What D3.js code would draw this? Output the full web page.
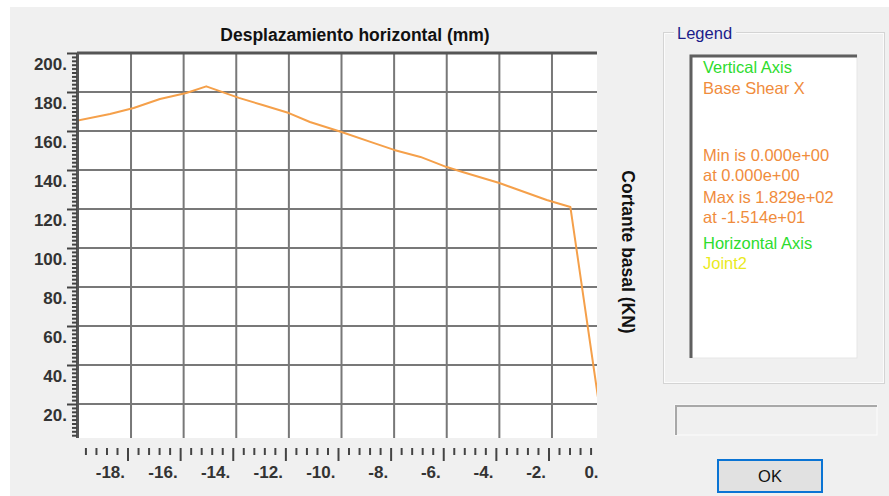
<!DOCTYPE html>
<html>
<head>
<meta charset="utf-8">
<script src="https://cdn.jsdelivr.net/npm/d3@7"></script>
<style>
	body { margin: 0; background: #ffffff; }
	svg { display: block; font-family: "Liberation Sans", Arial, sans-serif; }
</style>
</head>
<body>
<script>
// desplazamiento horizontal (mm) vs cortante basal (KN)
const dispX = [-20.0, -18.8, -17.9, -16.9, -15.9, -15.14, -13.9, -13.0, -12.0, -11.2, -10.0, -8.9, -8.0, -7.0, -6.0, -5.4, -4.0, -2.2, -1.3, 0.0];
const shearY = [165.5, 168.7, 171.8, 176.4, 179.5, 182.9, 177.0, 173.3, 169.2, 164.6, 159.5, 154.4, 150.3, 146.7, 141.5, 139.0, 133.3, 124.6, 121.0, 0.0];

const xMajor = [-18, -16, -14, -12, -10, -8, -6, -4, -2, 0];
const xGrid = [-18, -16, -14, -12, -10, -8, -6, -4, -2];
const yMajor = [20, 40, 60, 80, 100, 120, 140, 160, 180, 200];
const yGrid = [20, 40, 60, 80, 100, 120, 140, 160, 180];

const legendText = ["Vertical Axis", "Base Shear X", "Min is 0.000e+00", "at 0.000e+00", "Max is 1.829e+02", "at -1.514e+01", "Horizontal Axis", "Joint2"];
const legendColor = ["#2edc2e", "#f08c3c", "#f08c3c", "#f08c3c", "#f08c3c", "#f08c3c", "#2edc2e", "#eaea1e"];

const data = dispX.map((d, i) => ({x: d, y: shearY[i]}));

const width = 889, height = 496;
const plot = {left: 79, right: 597, top: 53, bottom: 438};

let svg = d3.select("body").append("svg")
	.attr("width", width)
	.attr("height", height);

// dialog background
svg.append("rect")
	.attr("x", 10).attr("y", 7)
	.attr("width", width - 10).attr("height", height - 7)
	.attr("fill", "#f0f0f0");

//scales
const x = d3.scaleLinear().domain([-20, 0]).range([78.4, 604.6]);
const y = d3.scaleLinear().domain([0, 200]).range([443, 53]);
// axis ticks sit a few px left of the grid in the original
const xt = x.copy().range([78.4 - 3.5, 604.6 - 3.5]);

svg.append("defs").append("clipPath").attr("id", "clip")
	.append("rect")
	.attr("x", plot.left).attr("y", plot.top)
	.attr("width", plot.right - plot.left).attr("height", plot.bottom - plot.top);

svg.append("rect")
	.attr("x", plot.left).attr("y", plot.top)
	.attr("width", plot.right - plot.left).attr("height", plot.bottom - plot.top)
	.attr("fill", "white");

//grid
let grid = svg.append("g").attr("stroke", "#787878").attr("stroke-width", 2);
grid.selectAll(".gx").data(xGrid).join("line")
	.attr("x1", d => x(d)).attr("x2", d => x(d))
	.attr("y1", plot.top).attr("y2", plot.bottom);
grid.selectAll(".gy").data(yGrid).join("line")
	.attr("x1", plot.left).attr("x2", plot.right)
	.attr("y1", d => y(d)).attr("y2", d => y(d));

// top border + left axis line
svg.append("line")
	.attr("x1", plot.left - 2).attr("x2", plot.right)
	.attr("y1", y(200)).attr("y2", y(200))
	.attr("stroke", "#555").attr("stroke-width", 3);
svg.append("line")
	.attr("x1", plot.left - 1.5).attr("x2", plot.left - 1.5)
	.attr("y1", plot.top).attr("y2", plot.bottom)
	.attr("stroke", "#555").attr("stroke-width", 3);

//y axis
const yMinor = d3.range(4, 200, 2).filter(v => v % 20 !== 0);
let yAxisMinor = svg.append("g")
	.attr("transform", `translate(${plot.left - 2},0)`)
	.call(d3.axisLeft(y).tickValues(yMinor).tickSize(5).tickFormat(""));
let yAxisGroup = svg.append("g")
	.attr("transform", `translate(${plot.left - 2},0)`)
	.call(d3.axisLeft(y).tickValues(yMajor).tickSize(10).tickFormat(d => d + "."));
[yAxisMinor, yAxisGroup].forEach(g => {
	g.select(".domain").remove();
	g.selectAll(".tick line").attr("stroke", "#444").attr("stroke-width", 2);
});
yAxisGroup.selectAll(".tick text")
	.attr("x", -10).attr("dy", 16)
	.attr("fill", "#333")
	.attr("font-size", 17).attr("font-weight", "bold")
	.attr("font-family", "Liberation Sans, Arial, sans-serif");

//x axis
const xMinor = d3.range(-19.6, 0, 0.4).filter(v => Math.abs(v / 2 - Math.round(v / 2)) > 0.01);
let xAxisMinor = svg.append("g")
	.attr("transform", `translate(0,448)`)
	.call(d3.axisBottom(xt).tickValues(xMinor).tickSize(7).tickFormat(""));
let xAxisGroup = svg.append("g")
	.attr("transform", `translate(0,448)`)
	.call(d3.axisBottom(xt).tickValues(xMajor).tickSize(13).tickFormat(d => d + "."));
[xAxisMinor, xAxisGroup].forEach(g => {
	g.select(".domain").remove();
	g.selectAll(".tick line").attr("stroke", "#444").attr("stroke-width", 2);
});
xAxisGroup.selectAll(".tick line").filter(d => d === 0).remove();
xAxisGroup.selectAll(".tick text")
	.attr("x", -3).attr("y", 30).attr("dy", 0)
	.attr("text-anchor", "end")
	.attr("fill", "#333")
	.attr("font-size", 17).attr("font-weight", "bold")
	.attr("font-family", "Liberation Sans, Arial, sans-serif");

//line
const line = d3.line().x(d => x(d.x)).y(d => y(d.y));
svg.append("path")
	.datum(data)
	.attr("clip-path", "url(#clip)")
	.attr("fill", "none")
	.attr("stroke", "#f5a04a")
	.attr("stroke-width", 2)
	.attr("stroke-linejoin", "round")
	.attr("d", line);

//axis titles
svg.append("text")
	.attr("x", 355).attr("y", 41)
	.attr("text-anchor", "middle")
	.attr("font-size", 17.5).attr("font-weight", "bold")
	.attr("fill", "#111")
	.text("Desplazamiento horizontal (mm)");
svg.append("text")
	.attr("transform", "translate(622,252) rotate(90)")
	.attr("text-anchor", "middle")
	.attr("font-size", 17.5).attr("font-weight", "bold")
	.attr("fill", "#111")
	.text("Cortante basal (KN)");

//legend group box
svg.append("rect")
	.attr("x", 663.5).attr("y", 32.5).attr("width", 221).attr("height", 351)
	.attr("fill", "none").attr("stroke", "#d4d4d4");
svg.append("rect")
	.attr("x", 664.5).attr("y", 33.5).attr("width", 219).attr("height", 349)
	.attr("fill", "none").attr("stroke", "#fbfbfb");
svg.append("rect")
	.attr("x", 674).attr("y", 22).attr("width", 62).attr("height", 20)
	.attr("fill", "#f0f0f0");
svg.append("text")
	.attr("x", 677).attr("y", 39)
	.attr("font-size", 16.5)
	.attr("fill", "#1c1c8a")
	.text("Legend");

// list box
svg.append("rect")
	.attr("x", 690).attr("y", 55).attr("width", 167).attr("height", 303)
	.attr("fill", "white").attr("stroke", "#e6e6e6");
svg.append("path")
	.attr("d", "M691,358V56H857")
	.attr("fill", "none").attr("stroke", "#5f5f5f").attr("stroke-width", 3);

const legendY = [67, 88, 155, 175, 197, 217, 243, 263];
svg.append("g")
	.attr("font-size", 16.5)
	.selectAll("text")
	.data(legendText)
	.join("text")
		.attr("x", 703)
		.attr("y", (d, i) => legendY[i] + 6)
		.attr("fill", (d, i) => legendColor[i])
		.text(d => d);

// empty field
svg.append("rect")
	.attr("x", 675).attr("y", 405).attr("width", 202).attr("height", 30)
	.attr("fill", "#f0f0f0").attr("stroke", "#fcfcfc");
svg.append("path")
	.attr("d", "M676,435V406H877")
	.attr("fill", "none").attr("stroke", "#a8a8a8").attr("stroke-width", 2);

// OK button
svg.append("rect")
	.attr("x", 718).attr("y", 460).attr("width", 104).attr("height", 32)
	.attr("fill", "#e1e1e1").attr("stroke", "#0a74d4").attr("stroke-width", 2);
svg.append("text")
	.attr("x", 770).attr("y", 482)
	.attr("text-anchor", "middle")
	.attr("font-size", 16.5)
	.attr("fill", "#111")
	.text("OK");
</script>
</body>
</html>
